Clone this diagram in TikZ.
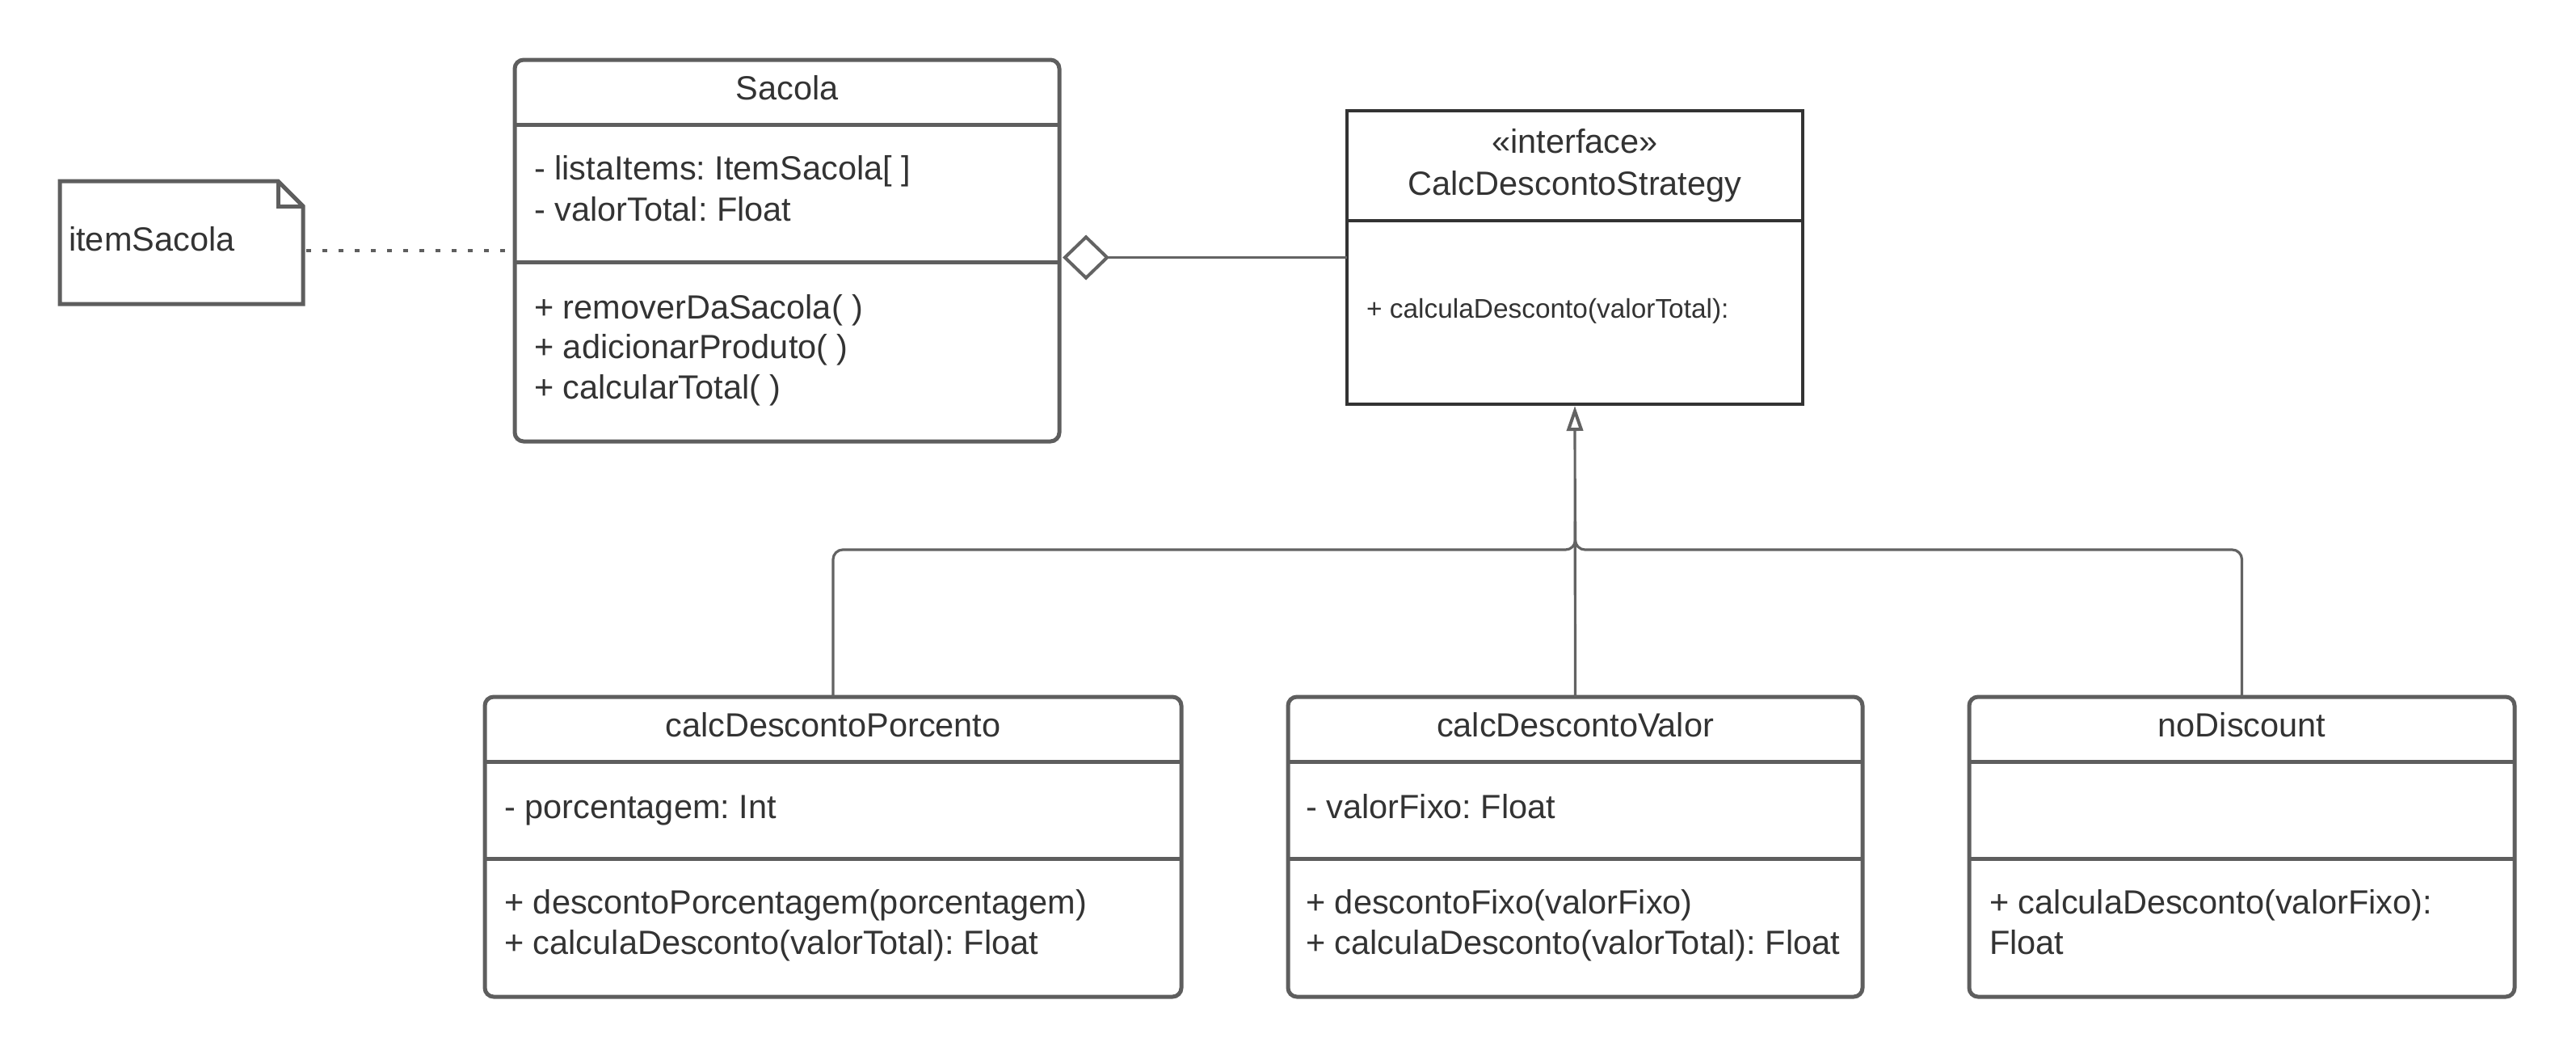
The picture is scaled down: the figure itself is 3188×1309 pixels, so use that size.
\documentclass[tikz,border=0pt]{standalone}
\usepackage{fontspec}
\setmainfont{Liberation Sans}
\usetikzlibrary{arrows.meta,calc}
\definecolor{lgray}{HTML}{5E5E5E}
\definecolor{cgray}{HTML}{636363}
\definecolor{dtext}{HTML}{333333}
\frenchspacing
\begin{document}
\begin{tikzpicture}[x=1pt,y=-1pt,
  classbox/.style={draw=lgray, line width=5pt, rounded corners=11pt, fill=white, inner sep=0pt, outer sep=0pt},
  ifacebox/.style={draw=dtext, line width=4pt, fill=white, inner sep=0pt, outer sep=0pt},
  divider/.style={draw=lgray, line width=5pt},
  idivider/.style={draw=dtext, line width=4pt},
  conn/.style={draw=cgray, line width=3.2pt},
  txt/.style={font=\fontsize{41.5}{50}\selectfont\frenchspacing, text=dtext, inner sep=0pt},
  smalltxt/.style={font=\fontsize{33.4}{40}\selectfont\frenchspacing, text=dtext, inner sep=0pt},
]
\useasboundingbox (0,0) rectangle (3188,1309);
\fill[white] (0,0) rectangle (3188,1309);

% ---------- class boxes ----------
\node[classbox, minimum width=674pt, minimum height=472pt] (sacola) at (974,310) {};
\node[ifacebox, minimum width=564pt, minimum height=363pt] (iface) at (1949,318.5) {};
\node[classbox, minimum width=862pt, minimum height=371pt] (porc) at (1031,1047.5) {};
\node[classbox, minimum width=711pt, minimum height=371pt] (valor) at (1949.5,1047.5) {};
\node[classbox, minimum width=675pt, minimum height=371pt] (disc) at (2774.5,1047.5) {};
\node[inner sep=0pt, outer sep=0pt, minimum width=301pt, minimum height=152pt] (note) at (224.5,300) {};

% dividers
\draw[divider] (sacola.west |- 0,154) -- (sacola.east |- 0,154);
\draw[divider] (sacola.west |- 0,324) -- (sacola.east |- 0,324);
\draw[idivider] (iface.west |- 0,273) -- (iface.east |- 0,273);
\foreach \b in {porc,valor,disc}{
  \draw[divider] (\b.west |- 0,942) -- (\b.east |- 0,942);
  \draw[divider] (\b.west |- 0,1062) -- (\b.east |- 0,1062);
}

% note outline
\draw[draw=lgray, line width=5pt, line join=miter]
  (note.north west) -- ($(note.north east)+(-31,0)$) -- ($(note.north east)+(0,31)$)
  -- (note.south east) -- (note.south west) -- cycle;
\draw[draw=lgray, line width=5pt, line join=miter]
  ($(note.north east)+(-31,0)$) -- ($(note.north east)+(-31,31)$) -- ($(note.north east)+(0,31)$);

% ---------- texts ----------
\node[txt, anchor=base west] (notetxt) at (85,310) {itemSacola};

\node[txt, anchor=base] (sacolaT) at (974,123) {Sacola};
\node[txt, anchor=base west] (sacA1) at (661,222) {- listaItems: ItemSacola[ ]};
\node[txt, anchor=base west] (sacA2) at (661,273) {- valorTotal: Float};
\node[txt, anchor=base west] (sacM1) at (661,394) {+ removerDaSacola( )};
\node[txt, anchor=base west] (sacM2) at (661,443) {+ adicionarProduto( )};
\node[txt, anchor=base west] (sacM3) at (661,493) {+ calcularTotal( )};

\node[txt, anchor=base] (ifS) at (1949,189) {«interface»};
\node[txt, anchor=base] (ifT) at (1949,241) {CalcDescontoStrategy};
\node[smalltxt, anchor=base west] (ifM) at (1691,393) {+ calculaDesconto(valorTotal):};

\node[txt, anchor=base] (porcT) at (1031,911) {calcDescontoPorcento};
\node[txt, anchor=base west] (porcA) at (624,1012) {- porcentagem: Int};
\node[txt, anchor=base west] (porcM1) at (624,1130) {+ descontoPorcentagem(porcentagem)};
\node[txt, anchor=base west] (porcM2) at (624,1180) {+ calculaDesconto(valorTotal): Float};

\node[txt, anchor=base] (valorT) at (1949.5,911) {calcDescontoValor};
\node[txt, anchor=base west] (valorA) at (1616,1012) {- valorFixo: Float};
\node[txt, anchor=base west] (valorM1) at (1616,1130) {+ descontoFixo(valorFixo)};
\node[txt, anchor=base west] (valorM2) at (1616,1180) {+ calculaDesconto(valorTotal): Float};

\node[txt, anchor=base] (discT) at (2774.5,911) {noDiscount};
\node[txt, anchor=base west] (discM1) at (2462,1130) {+ calculaDesconto(valorFixo):};
\node[txt, anchor=base west] (discM2) at (2462,1180) {Float};

% ---------- connectors ----------
\draw[draw=lgray, line width=4pt, dash pattern=on 6pt off 14pt]
  ($(note.east |- sacola.west)+(4,0)$) -- (sacola.west);

\draw[conn, {Diamond[length=58pt,width=56pt,fill=white,line width=4pt]}-]
  ($(sacola.east |- iface.west)+(4,0)$) -- (iface.west);

\coordinate (bus) at (1949.5,680);
\coordinate (hubtop) at (1949.5,645);
\draw[conn, rounded corners=12pt] (porc.north) |- (bus) -- (hubtop);
\draw[conn, rounded corners=12pt] (disc.north) |- (bus) -- (hubtop);
\draw[conn, -{Triangle[length=31pt,width=20pt,fill=white,line width=4pt]}]
  (valor.north) -- ($(iface.south)+(0,2)$);
\end{tikzpicture}
\end{document}
